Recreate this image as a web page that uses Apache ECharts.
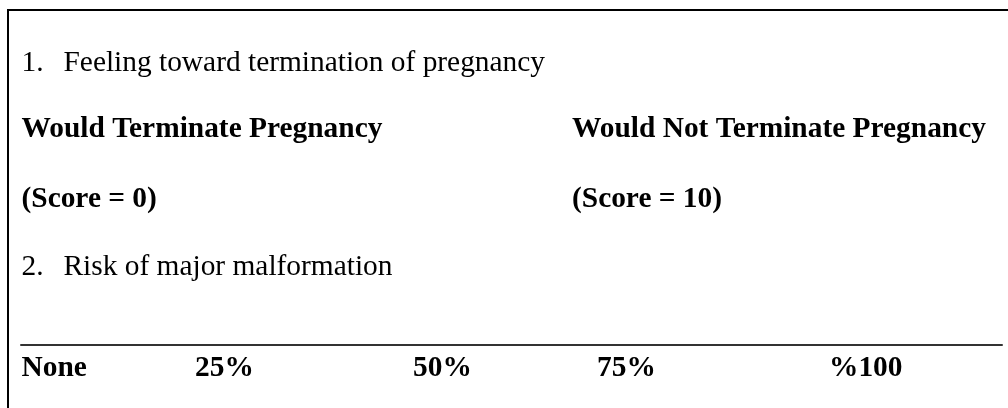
<!DOCTYPE html>
<html>
<head>
<meta charset="utf-8">
<script src="https://cdn.jsdelivr.net/npm/echarts@6/dist/echarts.min.js"></script>
<style>
html,body{margin:0;padding:0;background:#fff;}
#chart{width:1008px;height:408px;}
</style>
</head>
<body>
<div id="chart"></div>
<script>
// Content
const itemNumbers = ['1.', '2.'];
const itemQuestions = ['Feeling toward termination of pregnancy', 'Risk of major malformation'];
const anchorLabels = ['Would Terminate Pregnancy', 'Would Not Terminate Pregnancy'];
const anchorScores = ['(Score = 0)', '(Score = 10)'];
const scaleLabels = ['None', '25%', '50%', '75%', '%100'];

// Layout (pixels)
const FONT = '"Liberation Serif", "Times New Roman", serif';
const SIZE = 29.4;
const leftX = 21.5, tabX = 63.5, rightColX = 572;
const rowMid = [63.5, 129, 199, 267];
const lineY = 345, lineRight = 1002;
const scaleMid = 368;
const scaleTabs = [21.5, 195, 413, 597, 829];

const chart = echarts.init(document.getElementById('chart'), null, {renderer: 'canvas'});

function txt(text, x, y, bold) {
  return {
    type: 'text', x: x, y: y, silent: true,
    style: {
      text: text,
      font: (bold ? 'bold ' : '') + SIZE + 'px ' + FONT,
      fill: '#000',
      align: 'left',
      verticalAlign: 'middle'
    }
  };
}

const elements = [];
// frame: top and left borders
elements.push({
  type: 'polyline', silent: true,
  shape: {points: [[8, 408], [8, 10], [1008, 10]]},
  style: {stroke: '#000', lineWidth: 2, fill: null}
});
// item 1
elements.push(txt(itemNumbers[0], leftX, rowMid[0], false));
elements.push(txt(itemQuestions[0], tabX, rowMid[0], false));
// anchors
elements.push(txt(anchorLabels[0], leftX, rowMid[1], true));
elements.push(txt(anchorLabels[1], rightColX, rowMid[1], true));
elements.push(txt(anchorScores[0], leftX, rowMid[2], true));
elements.push(txt(anchorScores[1], rightColX, rowMid[2], true));
// item 2
elements.push(txt(itemNumbers[1], leftX, rowMid[3], false));
elements.push(txt(itemQuestions[1], tabX, rowMid[3], false));
// scale labels
scaleLabels.forEach(function (lab, i) {
  elements.push(txt(lab, scaleTabs[i], scaleMid, true));
});

chart.setOption({
  animation: false,
  backgroundColor: '#fff',
  grid: {left: 21, right: 1008 - lineRight, top: lineY - 40, height: 40, containLabel: false},
  xAxis: {
    type: 'value', min: 0, max: 100, position: 'bottom',
    axisLine: {show: true, lineStyle: {color: '#333', width: 2}},
    axisTick: {show: false}, axisLabel: {show: false}, splitLine: {show: false}
  },
  yAxis: {type: 'value', min: 0, max: 1, show: false},
  series: [],
  graphic: {elements: elements}
});
</script>
</body>
</html>
